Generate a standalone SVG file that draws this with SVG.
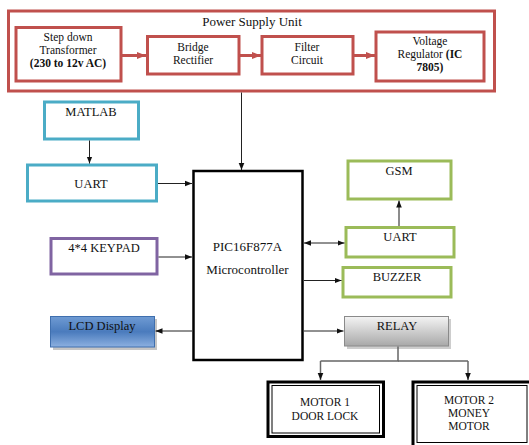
<svg xmlns="http://www.w3.org/2000/svg" width="529" height="445" viewBox="0 0 529 445">
<defs>
<style>
text{font-family:"Liberation Serif","Times New Roman",serif;font-size:12.5px;fill:#111;text-anchor:middle}
.s{font-size:11.5px}
.b{font-weight:bold}
.red{fill:#fff;stroke:#c0504d;stroke-width:3}
.cyan{fill:#fff;stroke:#4bacc6;stroke-width:3}
.grn{fill:#fff;stroke:#9bbb59;stroke-width:3}
.pur{fill:#fff;stroke:#8064a2;stroke-width:3}
.ln{fill:none;stroke:#222;stroke-width:1}
.rl{fill:none;stroke:#c0504d;stroke-width:3}
.gl{fill:none;stroke:#666;stroke-width:1.5}
</style>
<marker id="ah" viewBox="0 0 10 10" refX="10" refY="5" markerWidth="7" markerHeight="7" orient="auto-start-reverse" markerUnits="userSpaceOnUse"><path d="M0,1L10,5L0,9z" fill="#111"/></marker>
<marker id="ahr" viewBox="0 0 10 10" refX="10" refY="5" markerWidth="9" markerHeight="9" orient="auto" markerUnits="userSpaceOnUse"><path d="M0,1L10,5L0,9z" fill="#c0504d"/></marker>
<linearGradient id="gb" x1="0" y1="0" x2="0" y2="1"><stop offset="0" stop-color="#6f9bd3"/><stop offset="0.5" stop-color="#4a7bbd"/><stop offset="1" stop-color="#8cb0e0"/></linearGradient>
<linearGradient id="gg" x1="0" y1="0" x2="0" y2="1"><stop offset="0" stop-color="#f4f4f4"/><stop offset="1" stop-color="#a8a8a8"/></linearGradient>
</defs>

<g id="power-supply">
<rect class="red" x="8.5" y="11" width="486" height="80"/>
<text x="252" y="26" style="font-size:13px">Power Supply Unit</text>
</g>
<g id="step-down">
<rect class="red" x="16" y="27.5" width="105" height="53.5"/>
<text x="68" y="41" class="s">Step down</text>
<text x="68" y="54" class="s">Transformer</text>
<text x="68" y="67" class="s b">(230 to 12v AC)</text>
</g>
<g id="bridge">
<rect class="red" x="147.5" y="36.5" width="91.5" height="37.5"/>
<text x="193" y="51" class="s">Bridge</text>
<text x="193" y="64" class="s">Rectifier</text>
</g>
<g id="filter">
<rect class="red" x="262" y="36.5" width="91" height="37.5"/>
<text x="307" y="51" class="s">Filter</text>
<text x="307" y="64" class="s">Circuit</text>
</g>
<g id="regulator">
<rect class="red" x="376" y="32" width="108" height="49"/>
<text x="430" y="45" class="s">Voltage</text>
<text x="430" y="58" class="s">Regulator <tspan class="b">(IC</tspan></text>
<text x="430" y="71" class="s b">7805)</text>
</g>

<g id="matlab">
<rect class="cyan" x="44.5" y="102" width="94" height="37"/>
<text x="91" y="116">MATLAB</text>
</g>
<g id="uart-left">
<rect class="cyan" x="27.5" y="165" width="129" height="36"/>
<text x="91" y="188">UART</text>
</g>
<g id="keypad">
<rect class="pur" x="51" y="238.5" width="106" height="35.5"/>
<text x="104" y="252">4*4 KEYPAD</text>
</g>
<g id="mcu">
<rect x="193.5" y="171" width="109" height="189" fill="#fff" stroke="#000" stroke-width="2.5"/>
<text x="247.5" y="251" style="font-size:13px">PIC16F877A</text>
<text x="247.5" y="274" style="font-size:13px">Microcontroller</text>
</g>
<g id="lcd">
<rect x="53" y="319" width="104" height="31" fill="#5a5a5a" opacity="0.35"/>
<rect x="50.5" y="316.5" width="104" height="30.5" fill="url(#gb)" stroke="#3f6fae" stroke-width="1"/>
<text x="102" y="330">LCD Display</text>
</g>
<g id="gsm">
<rect class="grn" x="348" y="161" width="103" height="38"/>
<text x="399" y="175">GSM</text>
</g>
<g id="uart-right">
<rect class="grn" x="346" y="227.5" width="108" height="29.5"/>
<text x="400" y="241">UART</text>
</g>
<g id="buzzer">
<rect class="grn" x="343" y="267.5" width="108" height="29.5"/>
<text x="397" y="281">BUZZER</text>
</g>
<g id="relay">
<rect x="347" y="319" width="104" height="30" fill="#5a5a5a" opacity="0.3"/>
<rect x="344.5" y="316.5" width="104" height="29.5" fill="url(#gg)" stroke="#8a8a8a" stroke-width="1"/>
<text x="397" y="330">RELAY</text>
</g>
<g id="motor1">
<rect x="268" y="382" width="115.5" height="54.5" fill="#fff" stroke="#000" stroke-width="3"/>
<rect x="272" y="385.5" width="107.5" height="47.5" fill="none" stroke="#000" stroke-width="1"/>
<text x="325" y="406" class="s">MOTOR 1</text>
<text x="325" y="420" class="s">DOOR LOCK</text>
</g>
<g id="motor2">
<rect x="413" y="382" width="130" height="70" fill="#fff" stroke="#000" stroke-width="3"/>
<rect x="417" y="385.5" width="110" height="57" fill="none" stroke="#000" stroke-width="1"/>
<text x="469" y="404" class="s">MOTOR 2</text>
<text x="469" y="417" class="s">MONEY</text>
<text x="469" y="430" class="s">MOTOR</text>
</g>

<g id="connectors">
<line class="rl" x1="121" y1="55.5" x2="146" y2="55.5" marker-end="url(#ahr)"/>
<line class="rl" x1="239" y1="55.5" x2="261" y2="55.5" marker-end="url(#ahr)"/>
<line class="rl" x1="353" y1="55.5" x2="375" y2="55.5" marker-end="url(#ahr)"/>
<line class="ln" x1="241.5" y1="92.5" x2="241.5" y2="170" marker-end="url(#ah)"/>
<line class="ln" x1="89.5" y1="140.5" x2="89.5" y2="163.5" marker-end="url(#ah)"/>
<line class="ln" x1="158" y1="183.5" x2="192" y2="183.5" marker-end="url(#ah)"/>
<line class="ln" x1="158.5" y1="257" x2="192" y2="257" marker-end="url(#ah)"/>
<line class="ln" x1="304" y1="243" x2="344.5" y2="243" marker-start="url(#ah)" marker-end="url(#ah)"/>
<line class="gl" x1="399" y1="226" x2="399" y2="200.5" marker-end="url(#ah)"/>
<line class="ln" x1="304" y1="280.5" x2="341.5" y2="280.5" marker-end="url(#ah)"/>
<line class="ln" x1="192" y1="331" x2="155.5" y2="331" marker-end="url(#ah)"/>
<line class="ln" x1="304" y1="331" x2="343.5" y2="331" marker-end="url(#ah)"/>
<polyline class="gl" points="398,346.5 398,361 320.5,361"/>
<line class="gl" x1="398" y1="361" x2="468" y2="361"/>
<line class="gl" x1="320.5" y1="361" x2="320.5" y2="380" marker-end="url(#ah)"/>
<line class="gl" x1="468" y1="361" x2="468" y2="380" marker-end="url(#ah)"/>
</g>
</svg>
